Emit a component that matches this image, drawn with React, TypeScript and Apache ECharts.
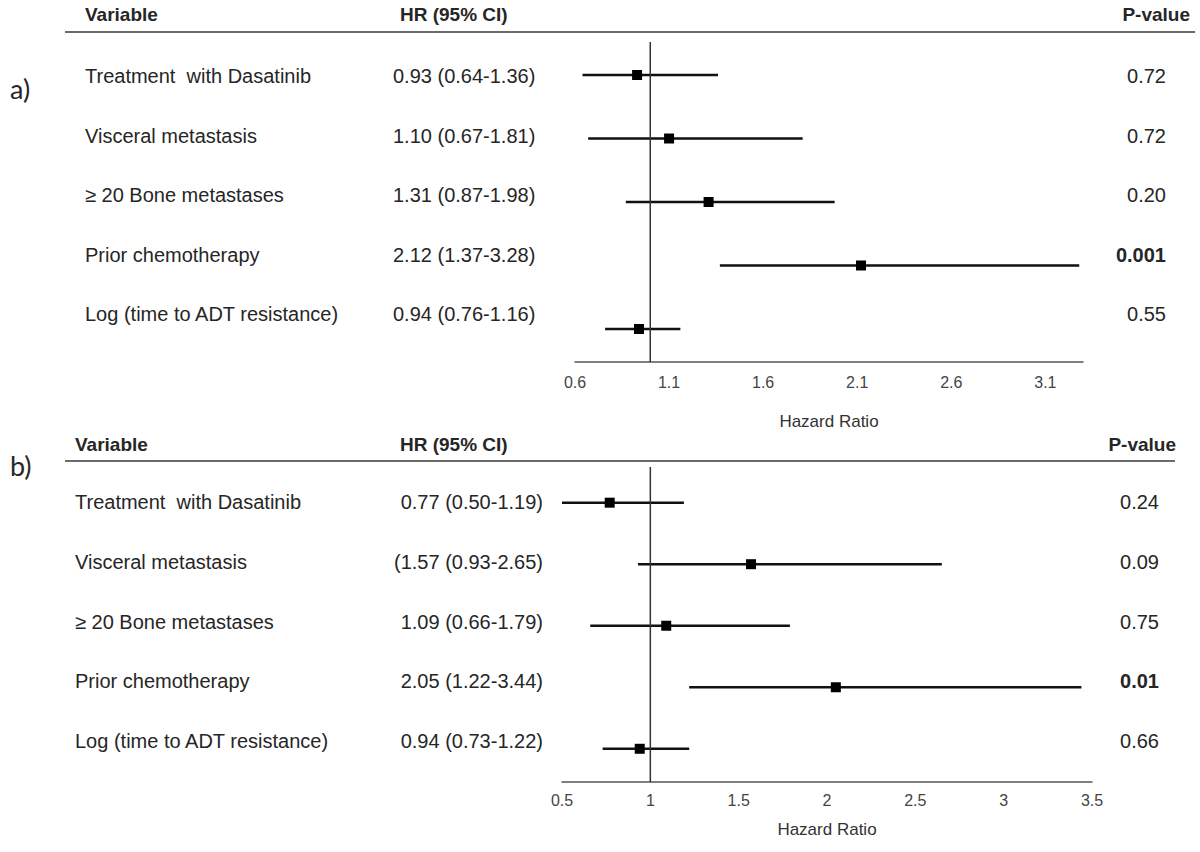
import React, { useEffect, useRef } from "react";
import * as echarts from "echarts";

// ---------- data ----------
const variablesA = [
  "Treatment  with Dasatinib",
  "Visceral metastasis",
  "≥ 20 Bone metastases",
  "Prior chemotherapy",
  "Log (time to ADT resistance)",
];
const hrLabelsA = [
  "0.93 (0.64-1.36)",
  "1.10 (0.67-1.81)",
  "1.31 (0.87-1.98)",
  "2.12 (1.37-3.28)",
  "0.94 (0.76-1.16)",
];
const hrA = [0.93, 1.1, 1.31, 2.12, 0.94];
const loA = [0.64, 0.67, 0.87, 1.37, 0.76];
const hiA = [1.36, 1.81, 1.98, 3.28, 1.16];
const pA = ["0.72", "0.72", "0.20", "0.001", "0.55"];
const pBoldA = [false, false, false, true, false];

const variablesB = [
  "Treatment  with Dasatinib",
  "Visceral metastasis",
  "≥ 20 Bone metastases",
  "Prior chemotherapy",
  "Log (time to ADT resistance)",
];
const hrLabelsB = [
  "0.77 (0.50-1.19)",
  "(1.57 (0.93-2.65)",
  "1.09 (0.66-1.79)",
  "2.05 (1.22-3.44)",
  "0.94 (0.73-1.22)",
];
const hrB = [0.77, 1.57, 1.09, 2.05, 0.94];
const loB = [0.5, 0.93, 0.66, 1.22, 0.73];
const hiB = [1.19, 2.65, 1.79, 3.44, 1.22];
const pB = ["0.24", "0.09", "0.75", "0.01", "0.66"];
const pBoldB = [false, false, false, true, false];

const axisA = { min: 0.6, max: 3.3, interval: 0.5, showMax: false };
const axisB = { min: 0.5, max: 3.5, interval: 0.5, showMax: true };
const referenceHR = 1;

// ---------- layout ----------
const FONT = "'Liberation Sans', Arial, sans-serif";
const TXT = "#262626";

export default function App() {
  const ref = useRef<HTMLDivElement>(null);

  useEffect(() => {
    document.body.style.margin = "0";
    const chart = echarts.init(ref.current!, null, { renderer: "svg" });

    const yA = { min: -0.52, max: 4.52 };
    const yB = { min: -0.58, max: 4.54 };

    const forestSeries = (idx: number, hr: number[], lo: number[], hi: number[]) => ({
      type: "custom",
      xAxisIndex: idx,
      yAxisIndex: idx,
      encode: { x: [1, 2, 3], y: 0 },
      data: hr.map((h, i) => [i, h, lo[i], hi[i]]),
      renderItem: (_p: any, api: any) => {
        const y = api.value(0);
        const a = api.coord([api.value(2), y]);
        const b = api.coord([api.value(3), y]);
        const c = api.coord([api.value(1), y]);
        return {
          type: "group",
          children: [
            {
              type: "line",
              shape: { x1: a[0], y1: a[1], x2: b[0], y2: b[1] },
              style: { stroke: "#111", lineWidth: 2.5 },
            },
            {
              type: "rect",
              shape: { x: c[0] - 5, y: c[1] - 5, width: 10, height: 10 },
              style: { fill: "#000" },
            },
          ],
        };
      },
    });

    const refLine = (idx: number, yr: { min: number; max: number }) => ({
      type: "line",
      xAxisIndex: idx,
      yAxisIndex: idx,
      symbol: "none",
      lineStyle: { color: "#333", width: 1.5 },
      data: [
        [referenceHR, yr.min],
        [referenceHR, yr.max],
      ],
    });

    const xAxisBase = (ax: any, margin: number, nameGap: number) => ({
      type: "value",
      min: ax.min,
      max: ax.max,
      interval: ax.interval,
      name: "Hazard Ratio",
      nameLocation: "middle",
      nameGap,
      nameTextStyle: { fontFamily: FONT, fontSize: 17, color: "#333" },
      axisLine: { show: true, onZero: false, lineStyle: { color: "#555", width: 1.5 } },
      axisTick: { show: false },
      splitLine: { show: false },
      axisLabel: {
        fontFamily: FONT,
        fontSize: 16,
        color: "#444",
        margin,
        showMinLabel: true,
        showMaxLabel: ax.showMax,
        formatter: (v: number) => String(Math.round(v * 10) / 10),
      },
    });

    const texts: any[] = [];
    const addText = (
      x: number,
      y: number,
      text: string,
      opts: { align?: string; bold?: boolean; size?: number; family?: string } = {}
    ) => {
      texts.push({
        type: "text",
        x,
        y,
        style: {
          text,
          fill: TXT,
          font: `${opts.bold ? "bold " : ""}${opts.size || 20}px ${opts.family || FONT}`,
          align: opts.align || "left",
          verticalAlign: "middle",
        },
      });
    };

    // Panel a
    addText(10, 88, "a)", { size: 27, family: "Lato, 'Open Sans', sans-serif" });
    addText(85, 14, "Variable", { bold: true, size: 19 });
    addText(400, 14, "HR (95% CI)", { bold: true, size: 19 });
    addText(1190, 14, "P-value", { align: "right", bold: true, size: 19 });
    texts.push({
      type: "line",
      shape: { x1: 65, y1: 32, x2: 1195, y2: 32 },
      style: { stroke: "#6a6a6a", lineWidth: 2 },
    });
    variablesA.forEach((v, i) => {
      const y = 76 + 59.5 * i;
      addText(85, y, v);
      addText(393, y, hrLabelsA[i]);
      addText(1166, y, pA[i], { align: "right", bold: pBoldA[i] });
    });

    // Panel b
    addText(10, 465, "b)", { size: 27, family: "Lato, 'Open Sans', sans-serif" });
    addText(75, 444, "Variable", { bold: true, size: 19 });
    addText(400, 444, "HR (95% CI)", { bold: true, size: 19 });
    addText(1176, 444, "P-value", { align: "right", bold: true, size: 19 });
    texts.push({
      type: "line",
      shape: { x1: 65, y1: 461, x2: 1175, y2: 461 },
      style: { stroke: "#6a6a6a", lineWidth: 2 },
    });
    variablesB.forEach((v, i) => {
      const y = 502 + 59.8 * i;
      addText(75, y, v);
      addText(543, y, hrLabelsB[i], { align: "right" });
      addText(1159, y, pB[i], { align: "right", bold: pBoldB[i] });
    });

    chart.setOption({
      animation: false,
      grid: [
        { left: 575, top: 42, width: 508, height: 320, outerBoundsMode: "none" },
        { left: 562, top: 467, width: 530, height: 315, outerBoundsMode: "none" },
      ],
      xAxis: [
        { ...xAxisBase(axisA, 12, 51), gridIndex: 0 },
        { ...xAxisBase(axisB, 10, 39), gridIndex: 1 },
      ],
      yAxis: [
        { type: "value", gridIndex: 0, inverse: true, min: yA.min, max: yA.max, show: false },
        { type: "value", gridIndex: 1, inverse: true, min: yB.min, max: yB.max, show: false },
      ],
      series: [
        refLine(0, yA),
        refLine(1, yB),
        forestSeries(0, hrA, loA, hiA),
        forestSeries(1, hrB, loB, hiB),
      ],
      graphic: { elements: texts },
    });

    return () => chart.dispose();
  }, []);

  return <div ref={ref} style={{ width: 1200, height: 852 }} />;
}
